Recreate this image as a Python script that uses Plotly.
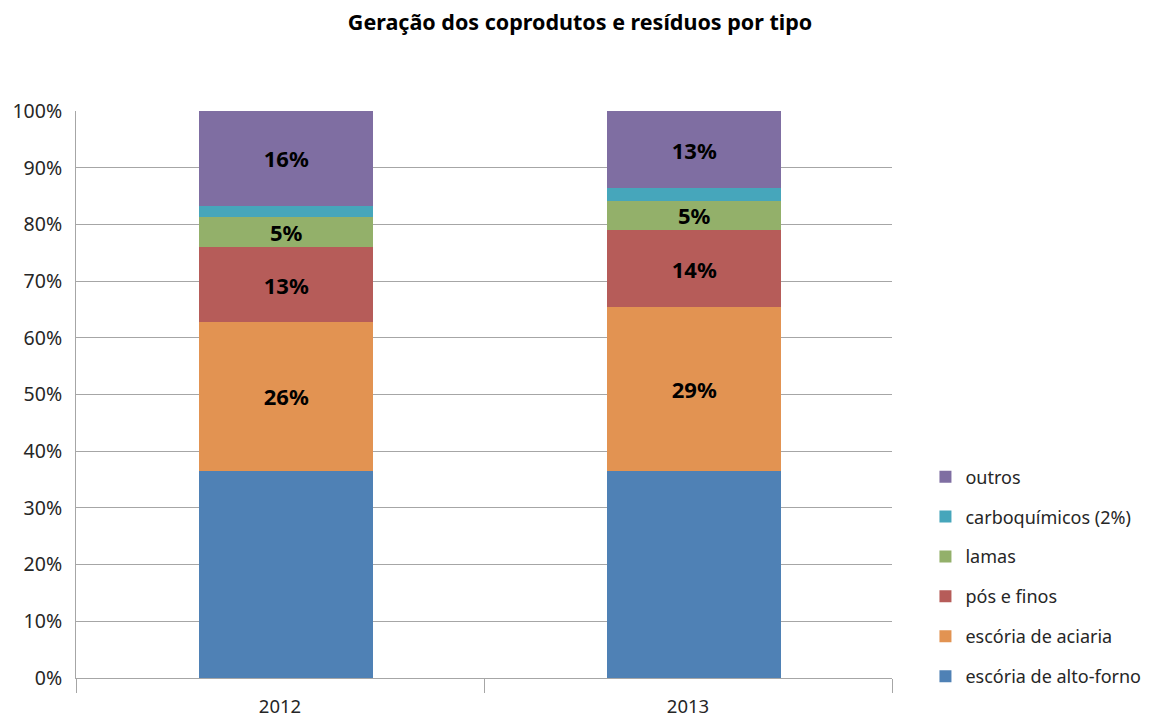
import plotly.graph_objects as go

years = ["2012", "2013"]
series_names = ["escória de alto-forno", "escória de aciaria", "pós e finos",
                "lamas", "carboquímicos (2%)", "outros"]
colors = ["#4f81b5", "#e29352", "#b65c59", "#93b06a", "#46a6bb", "#7f6ea2"]
alto_forno = [36.5, 36.5]
aciaria = [26.3, 28.9]
pos_finos = [13.2, 13.6]
lamas = [5.3, 5.2]
carboquimicos = [2.0, 2.2]
outros = [16.7, 13.6]
labels = [
    ["", ""],
    ["26%", "29%"],
    ["13%", "14%"],
    ["5%", "5%"],
    ["", ""],
    ["16%", "13%"],
]
values = [alto_forno, aciaria, pos_finos, lamas, carboquimicos, outros]

FONT = "Noto Sans"
fig = go.Figure()
n = len(series_names)
for i, (name, vals) in enumerate(zip(series_names, values)):
    fig.add_trace(go.Bar(
        x=years, y=vals, name=name, marker=dict(color=colors[i], line=dict(width=0)),
        width=0.427, offset=-0.198,
        text=labels[i], textposition="inside", insidetextanchor="middle",
        constraintext="none",
        textfont=dict(family=FONT, size=22, color="black", weight="bold"),
        legendgroup=name, legendrank=n - i, hoverinfo="skip",
    ))

fig.update_layout(
    barmode="stack",
    width=1154, height=718,
    margin=dict(l=68, r=270, t=103, b=48, autoexpand=False),
    paper_bgcolor="white", plot_bgcolor="white",
    font=dict(family=FONT, size=18, color="#262626"),
    uniformtext=dict(mode=False),
    title=dict(text="<b>Geração dos coprodutos e resíduos por tipo</b>",
               x=0.4957, xanchor="center", y=0.9805, yanchor="middle",
               font=dict(family=FONT, size=21.5, color="black")),
    legend=dict(x=1.041, xanchor="left", y=-0.029, yanchor="bottom",
                traceorder="grouped", tracegroupgap=13.5,
                font=dict(family=FONT, size=18, color="#262626")),
    showlegend=True,
)
fig.update_yaxes(range=[0, 100], dtick=10, ticksuffix="%", showgrid=True,
                 gridcolor="#a6a6a6", gridwidth=1, showline=True, linecolor="#a6a6a6",
                 ticks="", tickfont=dict(size=19.5), ticklabelstandoff=9,
                 zeroline=False, fixedrange=True, automargin=False)
fig.update_xaxes(showline=True, linecolor="#a6a6a6", ticks="outside", tickson="boundaries",
                 ticklen=14, tickcolor="#a6a6a6", tickfont=dict(size=18.5),
                 ticklabelstandoff=12, fixedrange=True, automargin=False)

fig.write_html("out.html")
